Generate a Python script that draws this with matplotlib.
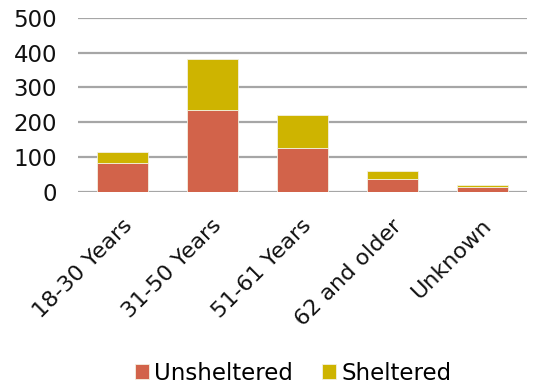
import matplotlib
matplotlib.use("Agg")
import matplotlib.pyplot as plt
import matplotlib.transforms as mtransforms
import numpy as np

categories = ["18-30 Years", "31-50 Years", "51-61 Years", "62 and older", "Unknown"]
unsheltered = [82, 234, 125, 36, 13]
sheltered = [33, 147, 96, 23, 6]
yticks = [0, 100, 200, 300, 400, 500]

plt.rcParams["font.family"] = ["DejaVu Sans"]

fig = plt.figure(figsize=(5.48, 3.85), dpi=100)
ax = fig.add_axes([78 / 548, 1 - 192 / 385, 449 / 548, (192 - 17.7) / 385])

x = np.arange(len(categories))
red = "#D2634A"
gold = "#CEB400"
ax.bar(x, unsheltered, width=0.57, color=red, edgecolor="#f3f0e0", linewidth=0.6,
       label="Unsheltered", zorder=3)
ax.bar(x, sheltered, width=0.57, bottom=unsheltered, color=gold, edgecolor="#f3f0e0",
       linewidth=0.6, label="Sheltered", zorder=3)

ax.set_xlim(-0.5, len(categories) - 0.5)
ax.set_ylim(0, 500)
ax.set_yticks(yticks)
ax.set_yticklabels([str(v) for v in yticks], fontsize=16.5)
ax.yaxis.grid(True, color="#a6a6a6", linewidth=1.6, zorder=0)
ax.set_axisbelow(True)
for s in ax.spines.values():
    s.set_visible(False)
ax.tick_params(axis="y", length=0, pad=15, colors="#111111")
ax.tick_params(axis="x", length=0, pad=22)

ax.set_xticks(x)
ax.set_xticklabels(categories, rotation=45, ha="right", va="center",
                   rotation_mode="anchor", fontsize=16, color="#111111")
shift = mtransforms.ScaledTranslation(6 / 100, 0, fig.dpi_scale_trans)
for lbl in ax.get_xticklabels():
    lbl.set_transform(lbl.get_transform() + shift)

handles, labels = ax.get_legend_handles_labels()
fig.legend(handles, labels, loc="center", bbox_to_anchor=(0.535, 1 - 373 / 385),
           ncol=2, frameon=False, fontsize=16.5, handlelength=0.61, handleheight=0.61,
           handletextpad=0.2, columnspacing=1.3, borderpad=0.1)

fig.savefig("out.png", dpi=100)
